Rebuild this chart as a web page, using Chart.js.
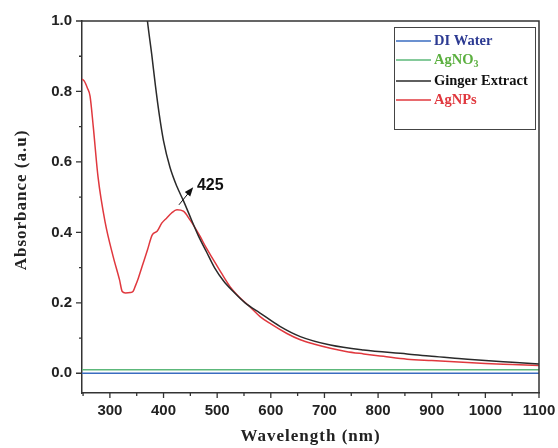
<!DOCTYPE html>
<html>
<head>
<meta charset="utf-8">
<script src="https://cdn.jsdelivr.net/npm/chart.js@4.4.0/dist/chart.umd.min.js"></script>
<style>
html,body{margin:0;padding:0;background:#fff;}
#wrap{width:558px;height:448px;position:relative;}
</style>
</head>
<body>
<div id="wrap"><canvas id="c" width="558" height="448"></canvas></div>
<script>
// ---- data ----
const waterX = [248, 1100];
const waterY = [0.0, 0.0];
const agno3X = [248, 1100];
const agno3Y = [0.01, 0.01];
const gingerX = [360, 370, 378, 385, 392, 400, 412, 425, 437, 452, 465, 480, 495, 512, 530, 552, 580, 617, 655, 711, 773, 854, 900, 950, 1000, 1050, 1100];
const gingerY = [1.15, 1.0, 0.905, 0.815, 0.735, 0.66, 0.585, 0.53, 0.49, 0.436, 0.39, 0.345, 0.30, 0.262, 0.232, 0.2, 0.171, 0.133, 0.104, 0.08, 0.066, 0.055, 0.048, 0.042, 0.036, 0.031, 0.026];
const agnpX = [248, 252, 258, 263, 269, 278, 291, 306, 318, 323, 329, 338, 343, 347, 353, 360, 370, 379, 388, 397, 406, 415, 425, 437, 449, 458, 468, 480, 493, 508, 524, 542, 561, 580, 600, 630, 655, 680, 711, 740, 773, 810, 854, 900, 950, 1000, 1050, 1100];
const agnpY = [0.835, 0.83, 0.81, 0.787, 0.70, 0.556, 0.43, 0.332, 0.265, 0.232, 0.228, 0.229, 0.232, 0.246, 0.27, 0.303, 0.35, 0.393, 0.403, 0.427, 0.441, 0.455, 0.464, 0.46, 0.436, 0.415, 0.389, 0.355, 0.322, 0.284, 0.246, 0.215, 0.189, 0.161, 0.14, 0.113, 0.095, 0.083, 0.071, 0.062, 0.055, 0.048, 0.04, 0.036, 0.032, 0.028, 0.025, 0.022];
const xTicks = [300, 400, 500, 600, 700, 800, 900, 1000, 1100];
const xMinor = [250, 350, 450, 550, 650, 750, 850, 950, 1050];
const yTicks = [0.0, 0.2, 0.4, 0.6, 0.8, 1.0];
const yMinor = [0.1, 0.3, 0.5, 0.7, 0.9];
const seriesNames = ['DI Water', 'AgNO3', 'Ginger Extract', 'AgNPs'];
const seriesColors = ['#3a6cc0', '#5cb87a', '#2a2a2a', '#e0383e'];
const legendTextColors = ['#2c3a92', '#5cb040', '#111111', '#e0383e'];
const peakLabel = '425';
const peakX = 425;
const peakY = 0.464;

const pts = (xs, ys) => xs.map((x, i) => ({x: x, y: ys[i]}));

const AX = '#333';

const decor = {
  id: 'decor',
  afterDraw(chart) {
    const ctx = chart.ctx;
    const xs = chart.scales.x, ys = chart.scales.y;
    const ca = chart.chartArea;
    ctx.save();
    // frame top/right
    ctx.strokeStyle = AX;
    ctx.lineWidth = 1.5;
    ctx.beginPath();
    ctx.moveTo(ca.left, ca.top);
    ctx.lineTo(ca.right, ca.top);
    ctx.lineTo(ca.right, ca.bottom);
    ctx.stroke();
    // ticks
    ctx.lineWidth = 1.3;
    ctx.beginPath();
    xTicks.forEach(v => { const p = xs.getPixelForValue(v); ctx.moveTo(p, ca.bottom); ctx.lineTo(p, ca.bottom + 5); });
    xMinor.forEach(v => { const p = xs.getPixelForValue(v); if (p > ca.left + 1) { ctx.moveTo(p, ca.bottom); ctx.lineTo(p, ca.bottom + 3); } });
    yTicks.forEach(v => { const p = ys.getPixelForValue(v); ctx.moveTo(ca.left, p); ctx.lineTo(ca.left - 6, p); });
    yMinor.forEach(v => { const p = ys.getPixelForValue(v); ctx.moveTo(ca.left, p); ctx.lineTo(ca.left - 3, p); });
    ctx.stroke();

    // axis titles
    ctx.fillStyle = '#222';
    ctx.font = 'bold 17px "Liberation Serif"';
    ctx.textAlign = 'center';
    ctx.textBaseline = 'middle';
    try { ctx.letterSpacing = '1px'; } catch (e) {}
    ctx.fillText('Wavelength (nm)', (ca.left + ca.right) / 2, 437);
    ctx.save();
    ctx.translate(22, (ca.top + ca.bottom) / 2 - 7);
    ctx.rotate(-Math.PI / 2);
    ctx.fillText('Absorbance (a.u)', 0, 0);
    ctx.restore();
    try { ctx.letterSpacing = '0px'; } catch (e) {}

    // peak annotation
    const px = xs.getPixelForValue(peakX), py = ys.getPixelForValue(peakY);
    const sx = px + 2, sy = py - 5;
    const ex = px + 15, ey = py - 21;
    ctx.strokeStyle = '#111';
    ctx.fillStyle = '#111';
    ctx.lineWidth = 1;
    ctx.beginPath(); ctx.moveTo(sx, sy); ctx.lineTo(ex, ey); ctx.stroke();
    const ang = Math.atan2(ey - sy, ex - sx);
    ctx.beginPath();
    ctx.moveTo(ex + 2 * Math.cos(ang), ey + 2 * Math.sin(ang));
    ctx.lineTo(ex - 7 * Math.cos(ang) + 3.5 * Math.sin(ang), ey - 7 * Math.sin(ang) - 3.5 * Math.cos(ang));
    ctx.lineTo(ex - 7 * Math.cos(ang) - 3.5 * Math.sin(ang), ey - 7 * Math.sin(ang) + 3.5 * Math.cos(ang));
    ctx.closePath(); ctx.fill();
    ctx.font = 'bold 16px "Liberation Sans"';
    ctx.textAlign = 'left';
    ctx.fillText(peakLabel, ex + 5, ey - 3);

    // legend
    const lx = 394, ly = 27, lw = 141, lh = 102;
    ctx.strokeStyle = '#444';
    ctx.lineWidth = 1;
    ctx.strokeRect(lx + 0.5, ly + 0.5, lw, lh);
    const rowY = [41, 60, 81, 100];
    ctx.textBaseline = 'middle';
    seriesNames.forEach((name, i) => {
      ctx.strokeStyle = seriesColors[i];
      ctx.lineWidth = 1.5;
      ctx.beginPath(); ctx.moveTo(396, rowY[i]); ctx.lineTo(431, rowY[i]); ctx.stroke();
      ctx.fillStyle = legendTextColors[i];
      ctx.font = 'bold 14.5px "Liberation Serif"';
      if (name === 'AgNO3') {
        ctx.fillText('AgNO', 434, rowY[i]);
        const w = ctx.measureText('AgNO').width;
        ctx.font = 'bold 10px "Liberation Serif"';
        ctx.fillText('3', 434 + w, rowY[i] + 4);
      } else {
        ctx.fillText(name, 434, rowY[i]);
      }
    });
    ctx.restore();
  }
};

const mk = (label, xs, ys, color) => ({
  label: label,
  data: pts(xs, ys),
  borderColor: color,
  borderWidth: 1.5,
  pointRadius: 0,
  fill: false,
  cubicInterpolationMode: 'monotone'
});

new Chart(document.getElementById('c'), {
  type: 'line',
  data: {
    datasets: [
      mk(seriesNames[0], waterX, waterY, seriesColors[0]),
      mk(seriesNames[1], agno3X, agno3Y, seriesColors[1]),
      mk(seriesNames[2], gingerX, gingerY, seriesColors[2]),
      mk(seriesNames[3], agnpX, agnpY, seriesColors[3])
    ]
  },
  options: {
    responsive: false,
    animation: false,
    devicePixelRatio: 1,
    layout: { padding: { top: 21, right: 19, left: 0, bottom: 0 } },
    plugins: { legend: { display: false }, tooltip: { enabled: false } },
    scales: {
      x: {
        type: 'linear',
        min: 248, max: 1100,
        afterBuildTicks: s => { s.ticks = xTicks.map(v => ({value: v})); },
        afterFit: s => { s.height = 55; s.paddingLeft = 0; s.paddingRight = 0; },
        grid: { display: false, drawTicks: false },
        border: { display: true, color: AX, width: 1.5 },
        ticks: { color: '#222', padding: 9, maxRotation: 0, autoSkip: false,
                 callback: v => String(v),
                 font: { family: '"Liberation Sans"', weight: 'bold', size: 15 } }
      },
      y: {
        type: 'linear',
        min: -0.056, max: 1.0,
        afterBuildTicks: s => { s.ticks = yTicks.map(v => ({value: v})); },
        afterFit: s => { s.width = 82; s.paddingTop = 0; s.paddingBottom = 0; },
        grid: { display: false, drawTicks: false },
        border: { display: true, color: AX, width: 1.5 },
        ticks: { color: '#222', padding: 10, autoSkip: false,
                 callback: v => Number(v).toFixed(1),
                 font: { family: '"Liberation Sans"', weight: 'bold', size: 15 } }
      }
    }
  },
  plugins: [decor]
});
</script>
</body>
</html>
